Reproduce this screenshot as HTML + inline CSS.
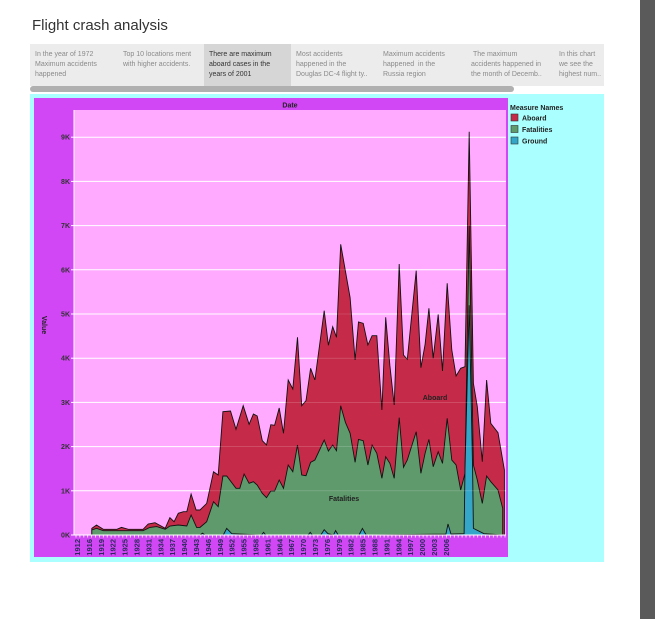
<!DOCTYPE html>
<html><head><meta charset="utf-8"><style>
body{margin:0;width:655px;height:619px;background:#fff;position:relative;overflow:hidden;font-family:"Liberation Sans",sans-serif}
.tab{position:absolute;top:44px;height:42px;font-size:7px;line-height:10px;color:#8a8a8a;padding:6px 0 0 5px;box-sizing:border-box}
</style></head><body>
<div style="position:absolute;left:32px;top:17px;font-size:15px;color:#333">Flight crash analysis</div>
<div style="position:absolute;left:30px;top:44px;width:574px;height:42px;background:#ececec"></div>
<div class="tab" style="left:30px;width:88px">In the year of 1972<br>Maximum accidents<br>happened</div>
<div class="tab" style="left:118px;width:86px">Top 10 locations ment<br>with higher accidents.</div>
<div class="tab" style="left:204px;width:87px;background:#d6d6d6;color:#333">There are maximum<br>aboard cases in the<br>years of 2001</div>
<div class="tab" style="left:291px;width:87px">Most accidents<br>happened in the<br>Douglas DC-4 flight ty..</div>
<div class="tab" style="left:378px;width:88px">Maximum accidents<br>happened &nbsp;in the<br>Russia region</div>
<div class="tab" style="left:466px;width:88px">&nbsp;The maximum<br>accidents happened in<br>the month of Decemb..</div>
<div class="tab" style="left:554px;width:50px">In this chart<br>we see the<br>highest num..</div>
<div style="position:absolute;left:30px;top:86px;width:484px;height:6px;border-radius:3px;background:#b0b0b0"></div>
<div style="position:absolute;left:640px;top:0;width:15px;height:619px;background:#5a5a5a"></div>
<svg id="chart" width="655" height="619" style="position:absolute;left:0;top:0" font-family="Liberation Sans, sans-serif">
<rect x="30" y="94" width="574" height="468" fill="#aaffff"/>
<rect x="34" y="98" width="474" height="459" fill="#d147f5"/>
<rect x="74" y="110" width="432" height="425" fill="#ffaaff"/>
<text x="290" y="107.5" font-size="7" font-weight="bold" text-anchor="middle" fill="#222">Date</text>
<text transform="translate(42,325) rotate(90)" font-size="7" font-weight="bold" text-anchor="middle" fill="#222">Value</text>
<g id="grid"></g><g id="areas"></g><g id="grid2"></g><g id="yticks"></g><g id="xticks"></g>
<text x="435" y="400" font-size="7" font-weight="bold" text-anchor="middle" fill="#222">Aboard</text>
<text x="344" y="501" font-size="7" font-weight="bold" text-anchor="middle" fill="#222">Fatalities</text>
<g>
<text x="510" y="110" font-size="7" font-weight="bold" fill="#222">Measure Names</text>
<rect x="511" y="114" width="7" height="7" fill="#c52b48" stroke="#333" stroke-width="0.6"/>
<text x="522" y="120.5" font-size="7" font-weight="bold" fill="#222">Aboard</text>
<rect x="511" y="125.5" width="7" height="7" fill="#5f9a6c" stroke="#333" stroke-width="0.6"/>
<text x="522" y="132" font-size="7" font-weight="bold" fill="#222">Fatalities</text>
<rect x="511" y="137" width="7" height="7" fill="#34a6c8" stroke="#333" stroke-width="0.6"/>
<text x="522" y="143.5" font-size="7" font-weight="bold" fill="#222">Ground</text>
</g>
</svg>
<script>
const aboardYears=[1911.5,1912.6,1914.2,1917.4,1918.5,1920.1,1923.6,1924.8,1926.4,1928.8,1929.9,1930.9,1931.9,1933.1,1933.9,1934.9,1936.1,1937.0,1938.6,1940.2,1941.3,1942.4,1944.2,1945.5,1947.2,1948.6,1949.6,1950.5,1951.7,1952.7,1953.7,1954.6,1955.7,1956.7,1957.8,1958.9,1960.0,1961.0,1962.0,1963.1,1964.1,1966.3,1967.3,1968.3,1969.2,1970.2,1971.3,1972.4,1973.6,1974.4,1975.5,1976.6,1977.6,1978.7,1979.9,1980.8,1981.8,1982.8,1984.0,1985.0,1985.9,1988.0,1989.1,1990.1,1991.0,1992.0,1993.2,1994.2,1995.3,1996.4,1997.4,1998.5,1999.5,2000.5,2001.5,2002.4,2003.6,2004.6,2005.6,2007.3,2008.8];
const aboardValues=[150,226,128,128,173,128,128,249,279,151,392,302,490,528,528,928,566,566,716,1433,1357,2790,2805,2391,2926,2504,2738,2692,2134,2036,2496,2481,2873,2300,3507,3303,4472,2926,3039,3771,3507,5075,4291,4713,4472,6576,5973,5370,3959,4819,4789,4299,4510,4510,2828,4925,3831,2941,6131,4072,3974,5980,3786,4314,5128,3997,4992,3710,5694,4185,3597,3771,3808,9125,3431,2903,1659,3507,2526,2315,1471];
const fatalYears=[1911.5,1912.6,1914.2,1917.4,1920.1,1923.6,1925.2,1926.8,1928.8,1929.9,1931.9,1933.9,1934.9,1936.2,1937.0,1938.6,1940.2,1941.3,1942.4,1943.3,1945.5,1946.4,1947.4,1948.6,1949.6,1950.5,1951.7,1952.7,1953.7,1954.6,1955.7,1956.7,1957.8,1958.9,1960.0,1961.0,1962.0,1963.1,1964.1,1966.3,1967.3,1968.3,1969.2,1970.2,1971.3,1972.4,1973.6,1974.4,1975.5,1976.6,1977.6,1978.7,1979.9,1980.8,1981.8,1982.8,1984.0,1985.0,1985.9,1988.0,1989.1,1990.1,1991.0,1992.0,1993.2,1994.2,1995.3,1996.4,1997.4,1998.5,1999.5,2000.5,2001.5,2002.4,2003.6,2004.6,2005.6,2007.3,2008.4];
const fatalValues=[113,151,98,98,98,98,173,189,128,204,226,204,452,173,173,302,754,641,1335,1335,1056,1056,1380,1169,1207,1131,943,845,995,995,1244,1056,1584,1433,2036,1357,1342,1644,1697,2149,1900,2036,1908,2926,2549,2300,1644,2164,2134,1584,2036,1848,1282,1772,1621,1282,2655,1531,1697,2338,1395,1848,2164,1546,1885,1621,2640,1697,1584,1018,1395,7000,1584,1244,716,1335,1207,1018,603];
const groundYears=[1912,1937,1937.6,1938.2,1942.5,1943.3,1944.5,1951.5,1952,1952.5,1962.5,1963,1963.5,1965.5,1966.3,1967.2,1968.5,1969,1969.6,1974.5,1975.3,1976.2,1995,1995.5,1996.2,1999.3,1999.5,2000.5,2001.3,2001.5,2004,2008.5];
const groundValues=[0,0,40,0,0,150,30,0,60,0,0,60,0,0,120,30,0,100,0,0,150,0,20,250,20,30,1500,5200,1500,150,30,0];
const yTickValues=[0,1000,2000,3000,4000,5000,6000,7000,8000,9000];
const yTickLabels=["0K","1K","2K","3K","4K","5K","6K","7K","8K","9K"];
const xTickLabels=["1912","1916","1919","1922","1925","1928","1931","1934","1937","1940","1943","1946","1949","1952","1955","1958","1961","1964","1967","1970","1973","1976","1979","1982","1985","1988","1991","1994","1997","2000","2003","2006"];
const NS='http://www.w3.org/2000/svg';
const xScale=y=>77+(y-1908)*4.24;
const yScale=v=>535-v*0.0442;
const labelX=i=>77+i*11.9;
function mk(tag,attrs,parent){const e=document.createElementNS(NS,tag);for(const k in attrs)e.setAttribute(k,attrs[k]);parent.appendChild(e);return e;}
const grid=document.getElementById('grid'),grid2=document.getElementById('grid2'),yt=document.getElementById('yticks'),xt=document.getElementById('xticks'),areas=document.getElementById('areas');
yTickValues.forEach((v,i)=>{
  if(v>0){const l=mk('line',{x1:74,x2:506,y1:yScale(v),y2:yScale(v),stroke:'#fff','stroke-width':1},grid);
  
  
  const l2=mk('line',{x1:74,x2:506,y1:yScale(v),y2:yScale(v),stroke:'#fff','stroke-width':0.6,opacity:0.25},grid2);
  
  }
  const tk=mk('line',{x1:71,x2:74,y1:yScale(v),y2:yScale(v),stroke:'#fff','stroke-width':1},yt);
  
  
  const t=mk('text',{x:70,y:yScale(v)+2.5,'font-size':7,'font-weight':'bold','text-anchor':'end',fill:'#333'},yt);
  t.textContent=yTickLabels[i];
  
  
});
mk('line',{x1:74,x2:74,y1:110,y2:535,stroke:'#fff','stroke-width':1},yt);
function area(ys,vs,fill,name){
  let d='M'+xScale(ys[0])+','+yScale(0);
  ys.forEach((y,i)=>{d+=' L'+xScale(y).toFixed(1)+','+yScale(vs[i]).toFixed(1);});
  d+=' L'+xScale(ys[ys.length-1]).toFixed(1)+','+yScale(0)+' Z';
  const p=mk('path',{d:d,fill:fill,stroke:'#111','stroke-width':0.9,'stroke-linejoin':'miter'},areas);
  
  
}
area(aboardYears,aboardValues,'#c52b48','area-aboard');
area(fatalYears,fatalValues,'#5f9a6c','area-fatalities');
area(groundYears,groundValues,'#34a6c8','area-ground');
mk('line',{x1:74,x2:506,y1:535,y2:535,stroke:'#fff','stroke-width':1},xt);
for(let x=76;x<506;x+=3.9){const tk=mk('line',{x1:x,x2:x,y1:535,y2:537.5,stroke:'#fff','stroke-width':0.8},xt);
  
  }
xTickLabels.forEach((s,i)=>{
  const t=mk('text',{transform:'translate('+(labelX(i)+3)+',539) rotate(-90)','font-size':7.5,'font-weight':'bold','text-anchor':'end',fill:'#2a2a5a'},xt);
  t.textContent=s;
  
  
});
</script>
</body></html>
